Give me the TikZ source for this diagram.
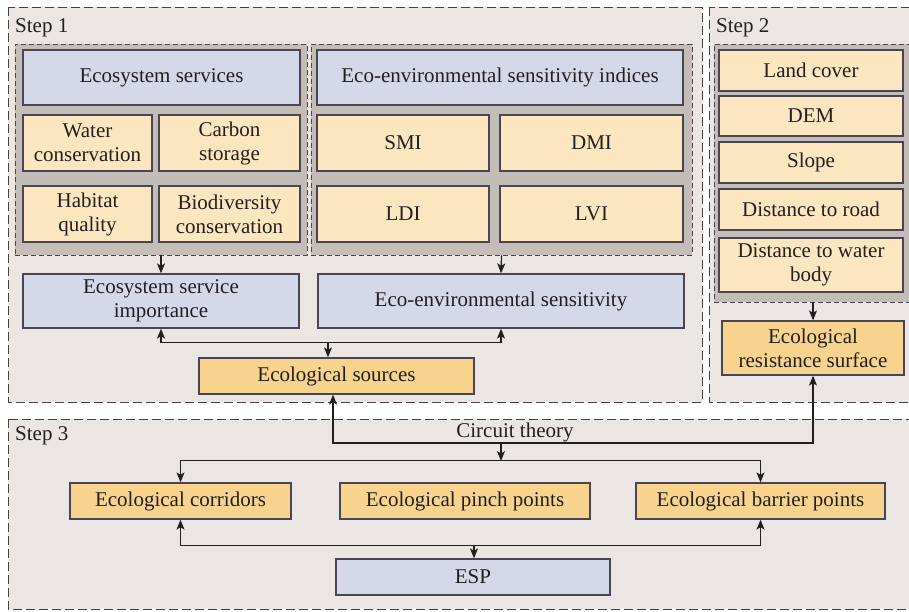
\documentclass[tikz,border=0pt]{standalone}
\usepackage{fontspec}
\setmainfont{Liberation Serif}
\usepackage{tikz}
\usetikzlibrary{arrows.meta,positioning}
\definecolor{panelgray}{HTML}{EBE6E3}
\definecolor{groupgray}{HTML}{C4BCB7}
\definecolor{boxline}{HTML}{4A4553}
\definecolor{boxblue}{HTML}{D5D8E8}
\definecolor{boxcream}{HTML}{FCE6BF}
\definecolor{boxorange}{HTML}{F7D38D}
\definecolor{inkcol}{HTML}{231F20}
\tikzstyle{panel} = [draw=inkcol!85, line width=1pt, dash pattern=on 9pt off 4pt, fill=panelgray]
\tikzstyle{group} = [draw=boxline, line width=0.8pt, dash pattern=on 5pt off 3pt, fill=groupgray, inner sep=0pt]
\tikzstyle{box} = [draw=boxline, line width=1.3pt, align=center, inner sep=2pt, text=inkcol, font=\fontsize{21}{24}\selectfont]
\tikzstyle{bluebox} = [box, fill=boxblue]
\tikzstyle{itembox} = [box, fill=boxcream]
\tikzstyle{keybox} = [box, fill=boxorange]
\tikzstyle{steplabel} = [anchor=west, inner sep=0pt, text=inkcol, font=\fontsize{21}{24}\selectfont]
\tikzstyle{link} = [line width=1.2pt, draw=inkcol, >={Stealth[length=10pt,width=8pt,inset=2.5pt]}]

\begin{document}
\begin{tikzpicture}[x=1pt, y=-1pt]
    \useasboundingbox (0,0) rectangle (909,611);
    \clip (0,0) rectangle (909,611);
    \fill[white] (0,0) rectangle (909,611);

    % step panels
    \draw[panel] (8,7) rectangle (702,402);
    \draw[panel] (709,7) rectangle (915,402);
    \draw[panel] (8,419) rectangle (915,609);
    \node[steplabel] (s1) at (15,28) {Step 1};
    \node[steplabel] (s2) at (716,28) {Step 2};
    \node[steplabel] (s3) at (15,436) {Step 3};

    % grey groups
    \node[group, minimum width=292, minimum height=211] (g1) at (161,149.5) {};
    \node[group, minimum width=381, minimum height=211] (g2) at (501.5,149.5) {};
    \node[group, minimum width=198, minimum height=258] (g3) at (813,173) {};

    % step 1
    \node[bluebox, minimum width=277, minimum height=55] (ess) at (161.5,77.5) {Ecosystem services};
    \node[itembox, minimum width=129, minimum height=56] (water) at (87.5,143) {Water\\conservation};
    \node[itembox, minimum width=141, minimum height=56] (carbon) at (229.5,143) {Carbon\\storage};
    \node[itembox, minimum width=129, minimum height=56] (habitat) at (87.5,214) {Habitat\\quality};
    \node[itembox, minimum width=141, minimum height=56] (biodiv) at (229.5,214) {Biodiversity\\conservation};

    \node[bluebox, minimum width=366, minimum height=55] (eesi) at (500,77.5) {Eco-environmental sensitivity indices};
    \node[itembox, minimum width=172, minimum height=56] (smi) at (403,143) {SMI};
    \node[itembox, minimum width=183, minimum height=56] (dmi) at (591.5,143) {DMI};
    \node[itembox, minimum width=172, minimum height=56] (ldi) at (403,214) {LDI};
    \node[itembox, minimum width=183, minimum height=56] (lvi) at (591.5,214) {LVI};

    \node[bluebox, minimum width=276, minimum height=54] (esi) at (161,301) {Ecosystem service\\importance};
    \node[bluebox, minimum width=366, minimum height=54] (ees) at (501,301) {Eco-environmental sensitivity};
    \node[keybox, minimum width=275, minimum height=36] (sources) at (336.5,376) {Ecological sources};

    % step 2
    \foreach \name/\ypos/\boxh/\txt in {land/70.5/41/Land cover, dem/116/40/DEM, slope/162.5/41/Slope, road/209.5/41/Distance to road, wbody/265/54/{Distance to water\\body}}{
        \node[itembox, minimum width=184, minimum height=\boxh] (\name) at (811,\ypos) {\txt};
    }
    \node[keybox, minimum width=182, minimum height=54] (resist) at (813,348) {Ecological\\resistance surface};

    % step 3
    \node[steplabel, anchor=center] (ct) at (515,432) {Circuit theory};
    \node[keybox, minimum width=221, minimum height=36] (corr) at (180.5,501) {Ecological corridors};
    \node[keybox, minimum width=250, minimum height=36] (pinch) at (465,501) {Ecological pinch points};
    \node[keybox, minimum width=249, minimum height=36] (barrier) at (760.5,501) {Ecological barrier points};
    \node[bluebox, minimum width=274, minimum height=36] (esp) at (473,577) {ESP};

    % connectors
    \draw[link,->] (g1.south) -- (esi.north);
    \draw[link,->] (g2.south) -- (ees.north);
    \draw[link,->] (g3.south) -- (resist.north);
    \draw[link,<->] (esi.south) -- ++(0,14) -| (ees.south);
    \coordinate (srcjoin) at (328,342);
    \draw[link,->] (srcjoin) -- (srcjoin |- sources.north);

    \coordinate (ctleft) at (333,443);
    \draw[link,<->] (ctleft |- sources.south) -- (ctleft) -| (resist.south);
    \coordinate (ctdown) at (501,443);
    \draw[link,->] (ctdown) -- ++(0,18);
    \draw[link,<->] (corr.north) -- ++(0,-22) -| (barrier.north);
    \draw[link,<->] (corr.south) -- ++(0,26) -| (barrier.south);
    \coordinate (espjoin) at (474,545);
    \draw[link,->] (espjoin) -- (espjoin |- esp.north);
\end{tikzpicture}
\end{document}
